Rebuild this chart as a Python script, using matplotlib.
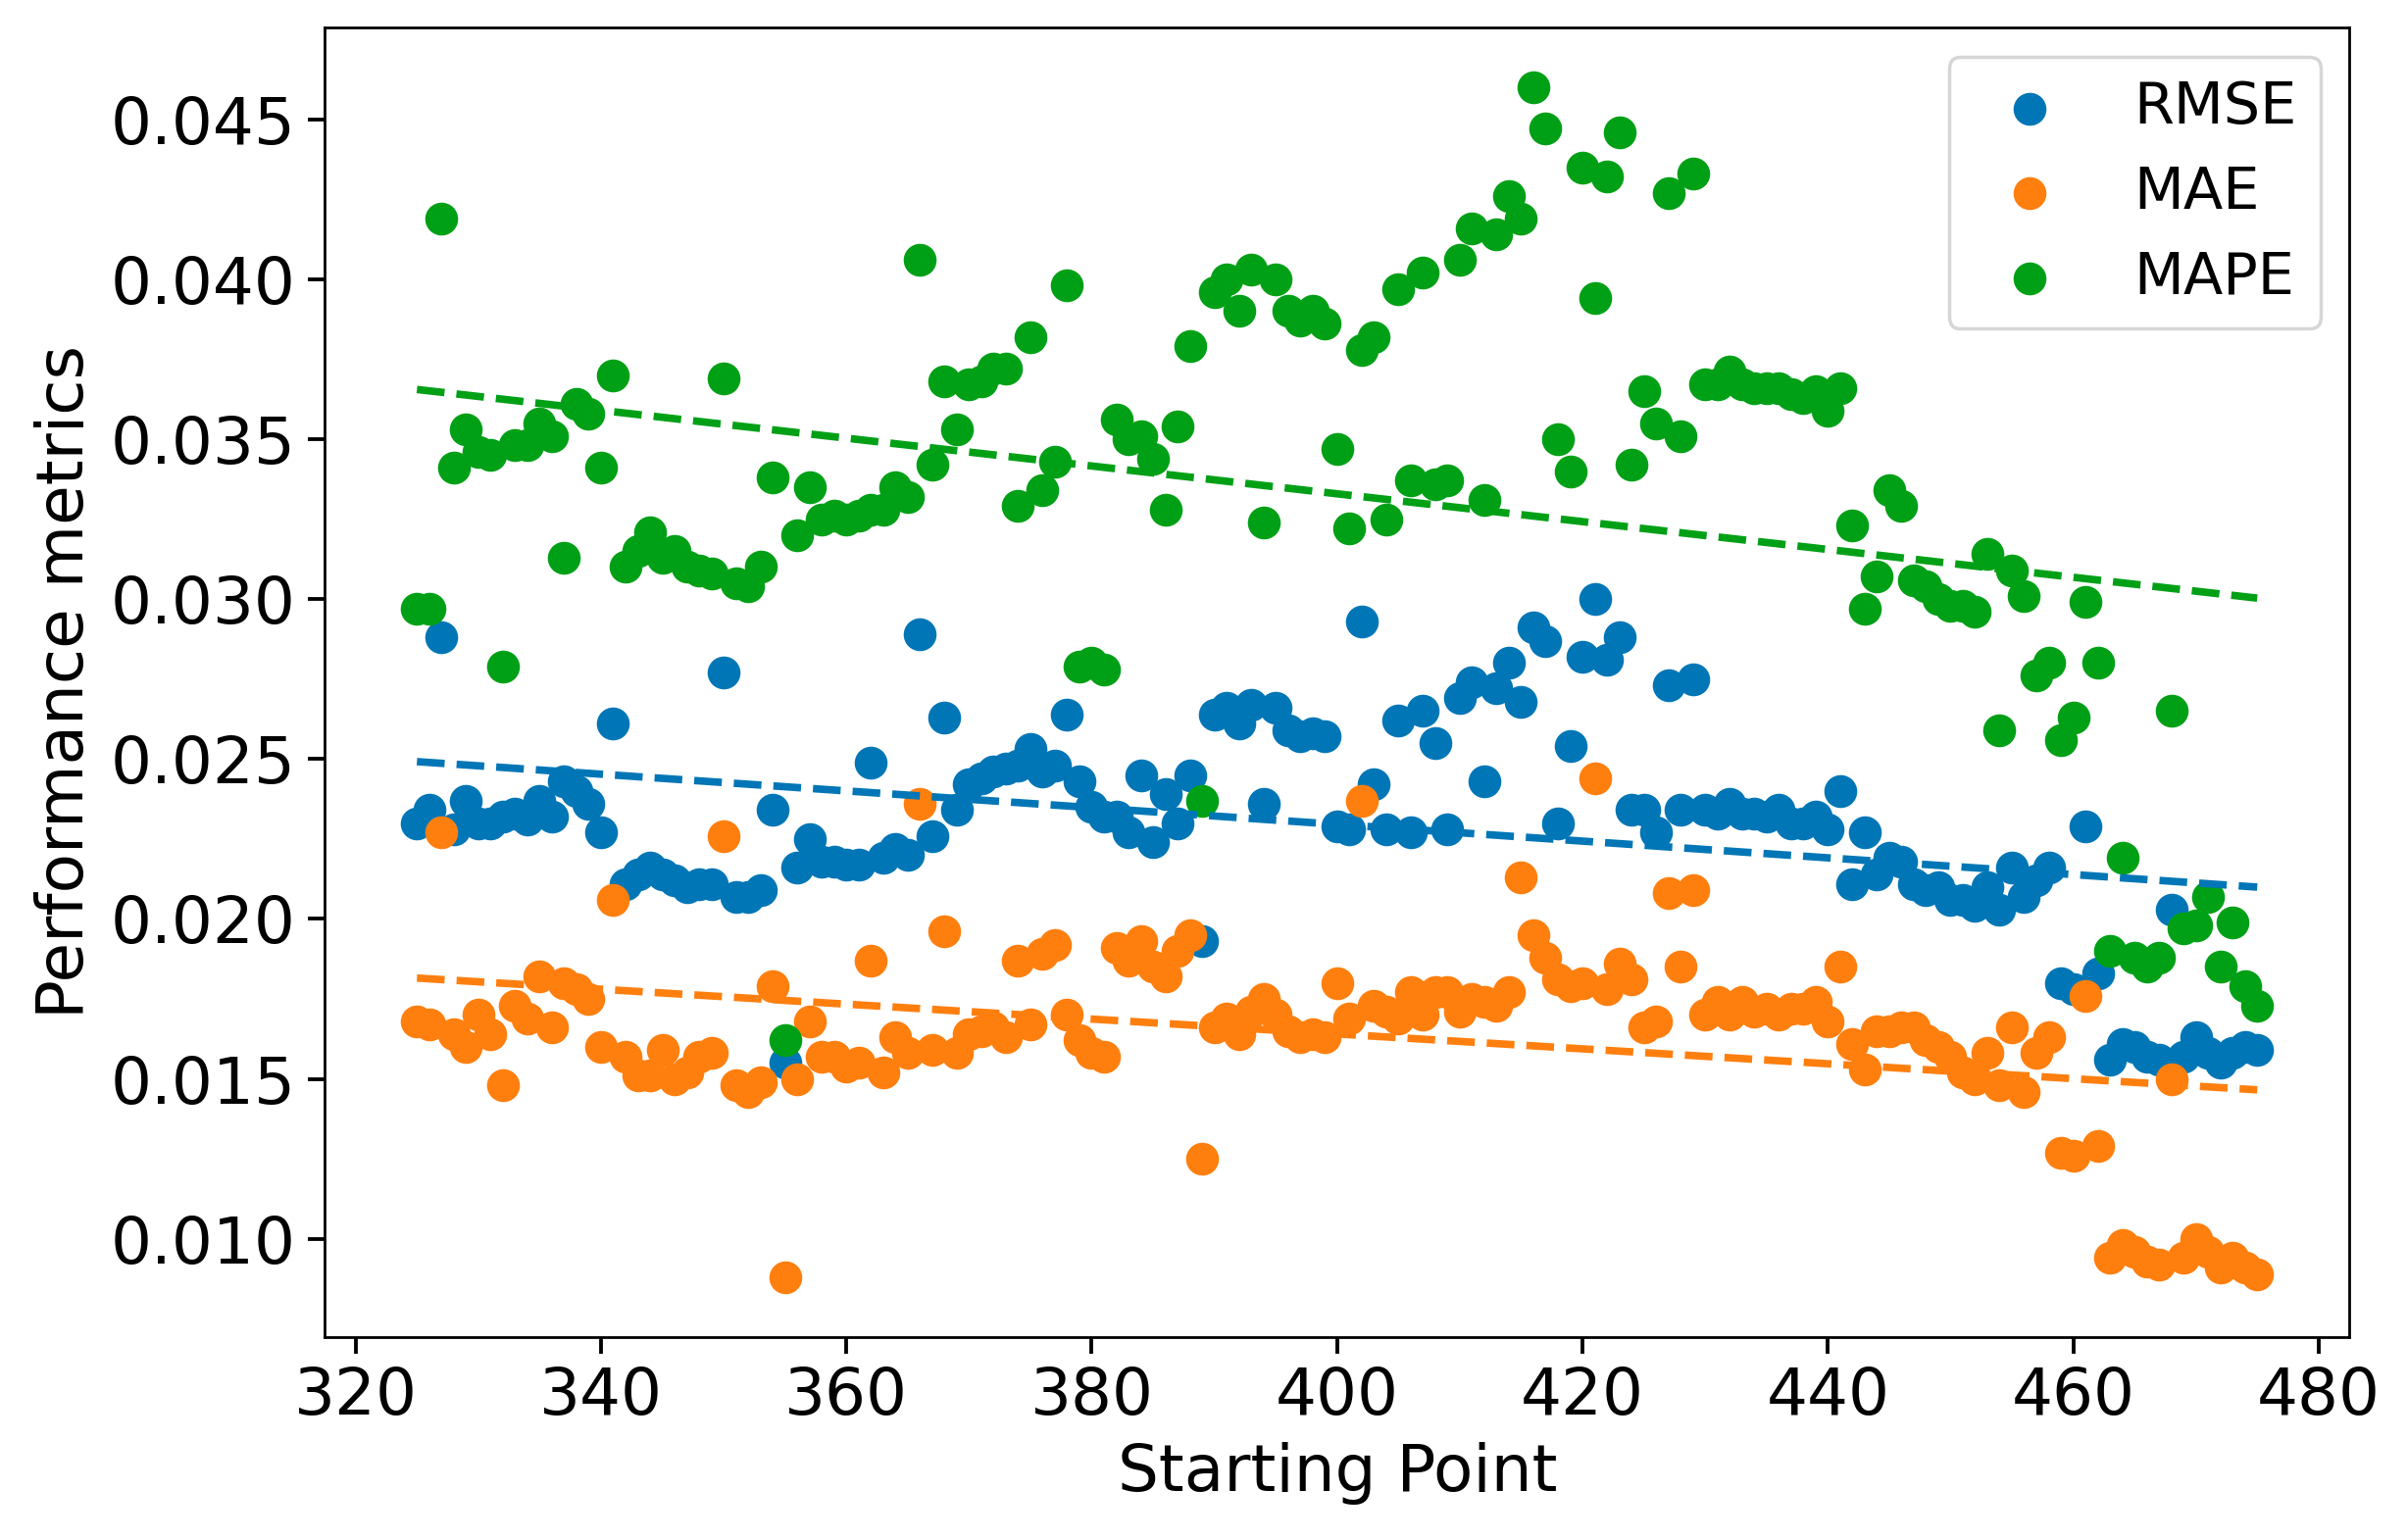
import numpy as np
import matplotlib
matplotlib.use("Agg")
import matplotlib.pyplot as plt

# starting points 325..475
start_points = list(range(325, 476))

rmse = [0.0230, 0.0234, 0.0288, 0.0228, 0.0237, 0.0230, 0.0230, 0.0232, 0.0233, 0.0231,
        0.0237, 0.0232, 0.0243, 0.0240, 0.0236, 0.0227, 0.0261, 0.0211, 0.0214, 0.0216,
        0.0214, 0.0212, 0.0210, 0.0211, 0.0211, 0.0277, 0.0207, 0.0207, 0.0209, 0.0234,
        0.0155, 0.0216, 0.0225, 0.0218, 0.0218, 0.0217, 0.0217, 0.0249, 0.0219, 0.0222,
        0.0220, 0.0289, 0.0226, 0.0263, 0.0234, 0.0242, 0.0244, 0.0246, 0.0247, 0.0248,
        0.0253, 0.0246, 0.0248, 0.0264, 0.0243, 0.0235, 0.0232, 0.0232, 0.0227, 0.0245,
        0.0224, 0.0239, 0.0230, 0.0245, 0.0193, 0.0264, 0.0266, 0.0261, 0.0267, 0.0236,
        0.0266, 0.0259, 0.0257, 0.0258, 0.0257, 0.0229, 0.0228, 0.0293, 0.0242, 0.0228,
        0.0262, 0.0227, 0.0265, 0.0255, 0.0228, 0.0269, 0.0274, 0.0243, 0.0272, 0.0280,
        0.0268, 0.0291, 0.0287, 0.0230, 0.0254, 0.0282, 0.0300, 0.0281, 0.0288, 0.0234,
        0.0234, 0.0227, 0.0273, 0.0234, 0.0275, 0.0234, 0.0233, 0.0236, 0.0233, 0.0233,
        0.0232, 0.0234, 0.0230, 0.0230, 0.0232, 0.0228, 0.0240, 0.0211, 0.0227, 0.0214,
        0.0219, 0.0218, 0.0211, 0.0209, 0.0210, 0.0206, 0.0206, 0.0204, 0.0210, 0.0203,
        0.0216, 0.0207, 0.0212, 0.0216, 0.0180, 0.0178, 0.0229, 0.0183, 0.0156, 0.0161,
        0.0160, 0.0157, 0.0156, 0.0203, 0.0157, 0.0163, 0.0158, 0.0155, 0.0158, 0.0160,
        0.0159]

mae = [0.0168, 0.0167, 0.0227, 0.0164, 0.0160, 0.0170, 0.0164, 0.0148, 0.0173, 0.0169,
       0.0182, 0.0166, 0.0180, 0.0178, 0.0175, 0.0160, 0.0206, 0.0157, 0.0151, 0.0151,
       0.0159, 0.0150, 0.0152, 0.0157, 0.0158, 0.0226, 0.0148, 0.0146, 0.0149, 0.0179,
       0.0088, 0.0150, 0.0168, 0.0157, 0.0157, 0.0154, 0.0155, 0.0187, 0.0152, 0.0163,
       0.0158, 0.0236, 0.0159, 0.0196, 0.0158, 0.0164, 0.0165, 0.0166, 0.0163, 0.0187,
       0.0167, 0.0189, 0.0192, 0.0170, 0.0162, 0.0158, 0.0157, 0.0191, 0.0187, 0.0193,
       0.0185, 0.0182, 0.0190, 0.0195, 0.0125, 0.0166, 0.0169, 0.0164, 0.0171, 0.0175,
       0.0170, 0.0165, 0.0163, 0.0164, 0.0163, 0.0180, 0.0169, 0.0237, 0.0173, 0.0171,
       0.0169, 0.0177, 0.0170, 0.0177, 0.0177, 0.0171, 0.0175, 0.0174, 0.0173, 0.0177,
       0.0213, 0.0195, 0.0188, 0.0181, 0.0179, 0.0180, 0.0244, 0.0178, 0.0186, 0.0181,
       0.0166, 0.0168, 0.0208, 0.0185, 0.0209, 0.0170, 0.0174, 0.0170, 0.0174, 0.0171,
       0.0172, 0.0170, 0.0172, 0.0172, 0.0174, 0.0168, 0.0185, 0.0161, 0.0153, 0.0165,
       0.0165, 0.0166, 0.0166, 0.0162, 0.0160, 0.0157, 0.0152, 0.0150, 0.0158, 0.0148,
       0.0166, 0.0146, 0.0158, 0.0163, 0.0127, 0.0126, 0.0176, 0.0129, 0.0094, 0.0098,
       0.0096, 0.0093, 0.0092, 0.0150, 0.0094, 0.0100, 0.0096, 0.0091, 0.0094, 0.0091,
       0.0089]

mape = [0.0297, 0.0297, 0.0419, 0.0341, 0.0353, 0.0346, 0.0345, 0.0279, 0.0348, 0.0348,
        0.0355, 0.0351, 0.0313, 0.0361, 0.0358, 0.0341, 0.0370, 0.0310, 0.0315, 0.0321,
        0.0313, 0.0315, 0.0310, 0.0309, 0.0308, 0.0369, 0.0305, 0.0304, 0.0310, 0.0338,
        0.0162, 0.0320, 0.0335, 0.0325, 0.0326, 0.0325, 0.0326, 0.0328, 0.0328, 0.0335,
        0.0332, 0.0406, 0.0342, 0.0368, 0.0353, 0.0367, 0.0368, 0.0372, 0.0372, 0.0329,
        0.0382, 0.0334, 0.0343, 0.0398, 0.0279, 0.0280, 0.0278, 0.0356, 0.0350, 0.0351,
        0.0344, 0.0328, 0.0354, 0.0379, 0.0237, 0.0396, 0.0400, 0.0390, 0.0403, 0.0324,
        0.0400, 0.0390, 0.0387, 0.0390, 0.0386, 0.0347, 0.0322, 0.0378, 0.0382, 0.0325,
        0.0397, 0.0337, 0.0402, 0.0336, 0.0337, 0.0406, 0.0416, 0.0331, 0.0414, 0.0426,
        0.0419, 0.0460, 0.0447, 0.0350, 0.0340, 0.0435, 0.0394, 0.0432, 0.0446, 0.0342,
        0.0365, 0.0355, 0.0427, 0.0351, 0.0433, 0.0367, 0.0367, 0.0371, 0.0367, 0.0366,
        0.0366, 0.0366, 0.0364, 0.0363, 0.0365, 0.0359, 0.0366, 0.0323, 0.0297, 0.0307,
        0.0334, 0.0329, 0.0306, 0.0304, 0.0300, 0.0298, 0.0298, 0.0296, 0.0314, 0.0259,
        0.0309, 0.0301, 0.0276, 0.0280, 0.0256, 0.0263, 0.0299, 0.0280, 0.0190, 0.0219,
        0.0188, 0.0185, 0.0188, 0.0265, 0.0197, 0.0198, 0.0207, 0.0185, 0.0199, 0.0179,
        0.0173]

labels = ["RMSE", "MAE", "MAPE"]
colors = ["#0076b6", "#ff7f0e", "#00a016"]

fig, ax = plt.subplots(figsize=(9.82, 6.284), dpi=250)
fig.subplots_adjust(left=0.135, right=0.976, top=0.982, bottom=0.132)

x = np.array(start_points)
for series, lab, col in zip([rmse, mae, mape], labels, colors):
    y = np.array(series)
    ax.scatter(x, y, s=75, color=col, label=lab, zorder=2)
    # linear trend
    m, b = np.polyfit(x, y, 1)
    ax.plot(x, m * x + b, "--", color=col, lw=2.2, zorder=3)

ax.set_xlabel("Starting Point", fontsize=19)
ax.set_ylabel("Performance metrics", fontsize=19)
ax.set_xticks([320, 340, 360, 380, 400, 420, 440, 460, 480])
ax.tick_params(labelsize=19, length=5, width=1.1)
ax.legend(loc="upper right", fontsize=17)

fig.savefig("out.png", dpi=250)
